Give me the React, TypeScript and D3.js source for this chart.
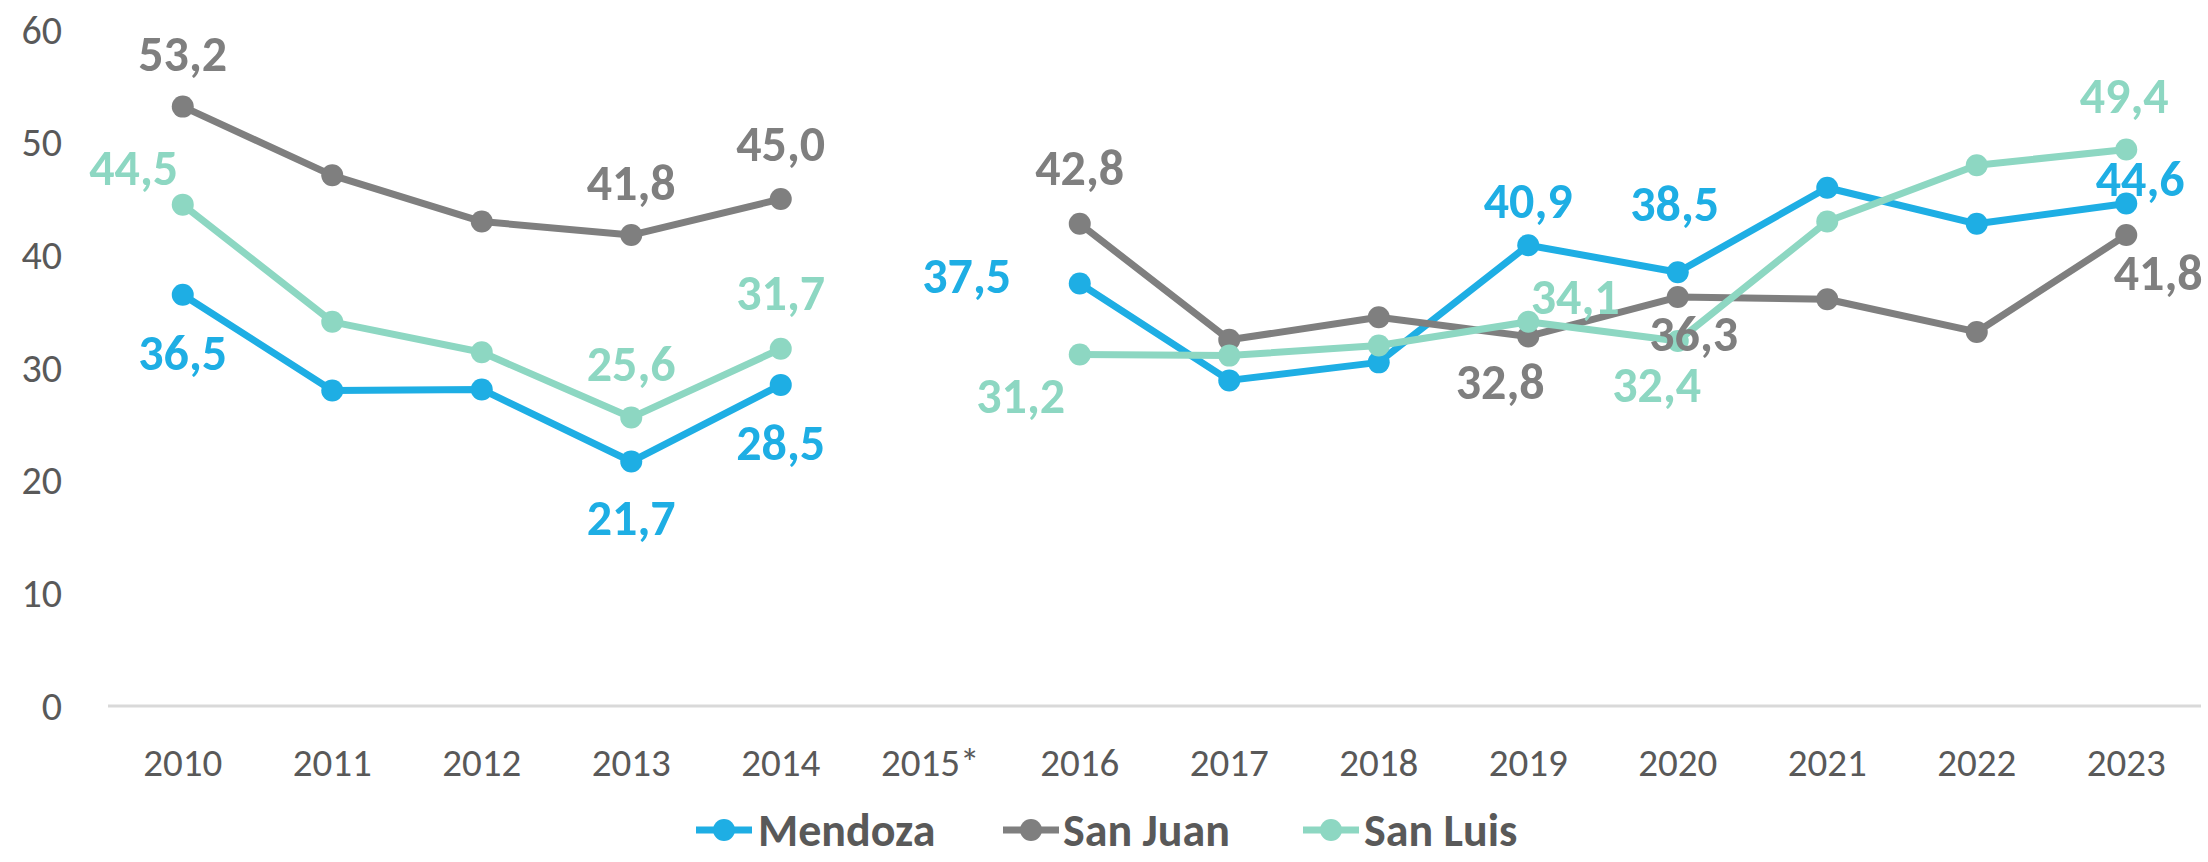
import React from "react";
import * as d3 from "d3";

const years = ["2010","2011","2012","2013","2014","2015*","2016","2017","2018","2019","2020","2021","2022","2023"];
const mendoza: (number|null)[] = [36.5,28.0,28.1,21.7,28.5,null,37.5,28.9,30.5,40.9,38.5,46.0,42.8,44.6];
const sanJuan: (number|null)[] = [53.2,47.1,43.0,41.8,45.0,null,42.8,32.5,34.5,32.8,36.3,36.1,33.2,41.8];
const sanLuis: (number|null)[] = [44.5,34.1,31.4,25.6,31.7,null,31.2,31.1,32.0,34.1,32.4,43.0,48.0,49.4];
const yTicks = [0,10,20,30,40,50,60];

const seriesNames = ["Mendoza","San Juan","San Luis"];
const seriesValues = [mendoza, sanJuan, sanLuis];
const colors = ["#1EAEE4","#7F7F7F","#8DD7C2"];

// label placement (offset of label centre from the point), keyed by series & year index
const labelPlacement: Record<string, [number, number]>[] = [
  { "0":[0,58], "3":[0,56], "4":[0,58], "6":[-113,-8], "9":[0,-45], "10":[-3,-69], "13":[14,-25] },
  { "0":[0,-53], "3":[0,-53], "4":[0,-56], "6":[0,-56], "9":[-28,45], "10":[16,36], "13":[32,37] },
  { "0":[-49,-37], "3":[0,-54], "4":[0,-56], "6":[-59,41], "9":[47,-25], "10":[-21,44], "13":[-2,-54] },
];

const FONT = "Carlito, Calibri, Lato, 'Open Sans', sans-serif";

export default function App() {
  const W = 2208, H = 862;
  const x = d3.scaleBand<string>().domain(years).range([108, 2201]);
  const y = d3.scaleLinear().domain([0, 60]).range([706, 30]);
  const cx = (i: number) => (x(years[i]) as number) + x.bandwidth() / 2;
  const line = d3.line<number|null>()
    .defined(d => d != null)
    .x((_, i) => cx(i))
    .y(d => y(d as number));
  const fmt = (v: number) => v.toFixed(1).replace(".", ",");

  const legendY = 830;
  const legendItems = [
    { marker: 724, text: 758 },
    { marker: 1031, text: 1063 },
    { marker: 1331, text: 1364 },
  ];

  return (
    <svg width={W} height={H} style={{ position: "absolute", left: 0, top: 0, background: "#fff" }} fontFamily={FONT}>
      <line x1={108} x2={2201} y1={y(0)} y2={y(0)} stroke="#D9D9D9" strokeWidth={3} />
      {yTicks.map(t => (
        <text key={t} x={62} y={y(t)} textAnchor="end" dominantBaseline="central" fontSize={40} fill="#595959">{t}</text>
      ))}
      {years.map((yr, i) => (
        <text key={yr} x={cx(i)} y={762} textAnchor="middle" dominantBaseline="central" fontSize={39} fill="#595959">{yr}</text>
      ))}
      {seriesValues.map((vals, s) => (
        <g key={s}>
          <path d={line(vals) || ""} fill="none" stroke={colors[s]} strokeWidth={7} strokeLinejoin="round" />
          {vals.map((v, i) => v == null ? null : (
            <circle key={i} cx={cx(i)} cy={y(v)} r={11} fill={colors[s]} />
          ))}
        </g>
      ))}
      {seriesValues.map((vals, s) => (
        <g key={"l" + s}>
          {Object.entries(labelPlacement[s]).map(([k, off]) => {
            const i = +k; const v = vals[i] as number;
            return (
              <text key={k} x={cx(i) + off[0]} y={y(v) + off[1]} textAnchor="middle" dominantBaseline="central"
                fontSize={50} fontWeight="bold" fill={colors[s]}>{fmt(v)}</text>
            );
          })}
        </g>
      ))}
      {seriesNames.map((n, s) => (
        <g key={n}>
          <line x1={legendItems[s].marker - 28} x2={legendItems[s].marker + 28} y1={legendY} y2={legendY} stroke={colors[s]} strokeWidth={7} />
          <circle cx={legendItems[s].marker} cy={legendY} r={11} fill={colors[s]} />
          <text x={legendItems[s].text} y={legendY} dominantBaseline="central" fontSize={46} fontWeight="bold" fill="#595959">{n}</text>
        </g>
      ))}
    </svg>
  );
}
